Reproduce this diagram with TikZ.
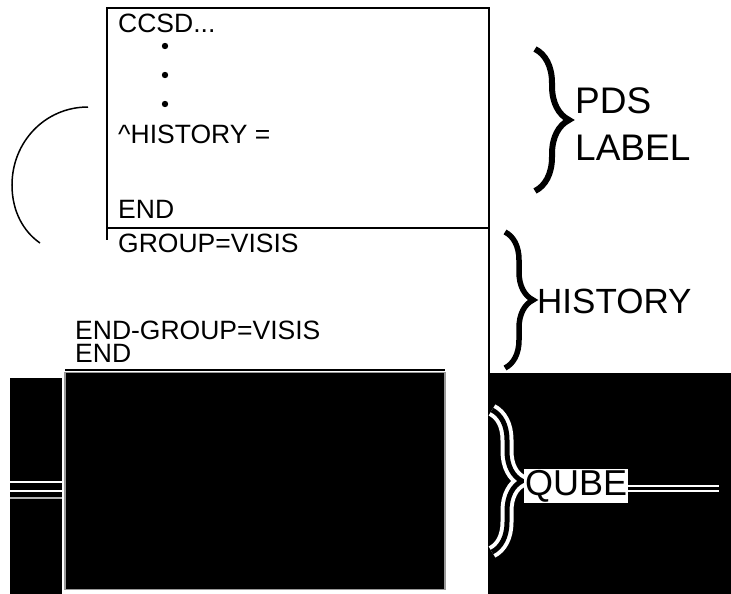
\documentclass[tikz,border=0pt]{standalone}
\usepackage{fontspec}
\setmainfont{Liberation Sans}
\usetikzlibrary{decorations.pathreplacing}

\begin{document}
\begin{tikzpicture}[x=1pt, y=-1pt,
    txt/.style={anchor=base west, inner sep=0pt, text depth=0pt, font=\fontsize{26.5}{30}\selectfont},
    big/.style={anchor=base west, inner sep=0pt, font=\fontsize{#1}{40}\selectfont},
    brc/.style={decorate, decoration={brace, amplitude=#1}}]
    \useasboundingbox (0,0) rectangle (731,594);
    \fill (10,378) rectangle (62,594);
    \fill (490,373) rectangle (731,594);
    \draw [white, line width=2pt] (10,482) -- (62,482);
    \draw [white, line width=1.5pt] (10,491) -- (62,491);
    \draw [white!70!black, line width=2pt] (10,498) -- (62,498);
    \node [draw, line width=2pt, minimum width=382pt, minimum height=220pt, inner sep=0pt] (lbl) at (298,118) {};
    \draw [line width=1.5pt] (107,228) -- (107,240);
    \draw [line width=1.5pt] (489,228) -- (489,594);
    \node [draw=white!60!black, fill=black, line width=1.5pt, minimum width=380pt, minimum height=217pt, inner sep=0pt] (qube) at (255,481) {};
    \draw [line width=2pt] (65,370) -- (445,370);
    \node [txt] (ccsd) at (118,33) {CCSD...};
    \foreach \y in {46,75,104} \fill (165,\y) circle (3.2);
    \node [txt] (ptr) at (118,143) {\^{}HISTORY =};
    \node [txt] (end1) at (118,218) {END};
    \node [txt] (grp) at (118,252) {GROUP=VISIS};
    \node [txt, anchor=south west, align=left, font=\fontsize{26.5}{23}\selectfont] (endgrp) at (75,363) {END-GROUP=VISIS\\END};
    \coordinate (a) at (88,107);
    \coordinate (b) at (40,243);
    \draw [line width=1.5pt] (a) .. controls (45,107) and (12,142) .. (12,185) .. controls (12,212) and (24,232) .. (b);
    \coordinate (p1) at (535,49);
    \coordinate (p2) at (535,191);
    \draw [brc=34pt, line width=6pt] (p1) -- (p2);
    \node [big=37] (pds) at (575,113) {PDS};
    \node [big=37] (label) at (575,160) {LABEL};
    \coordinate (h1) at (505,232);
    \coordinate (h2) at (505,368);
    \draw [brc=28pt, line width=5.5pt] (h1) -- (h2);
    \node [big=35] (hist) at (537,313) {HISTORY};
    \coordinate (q1) at (492,410);
    \coordinate (q2) at (492,552);
    \draw [brc=30pt, white, line width=13pt] (q1) -- (q2);
    \draw [brc=30pt, line width=5pt] (q1) -- (q2);
    \node [big=36, fill=white, inner sep=1pt] (qb) at (524,495) {QUBE};
    \draw [white, line width=2pt] (qb.east) -- ++(91,0);
    \draw [white, line width=1.5pt] ([yshift=-5pt]qb.east) -- ++(91,0);
    \end{tikzpicture}
\end{document}
